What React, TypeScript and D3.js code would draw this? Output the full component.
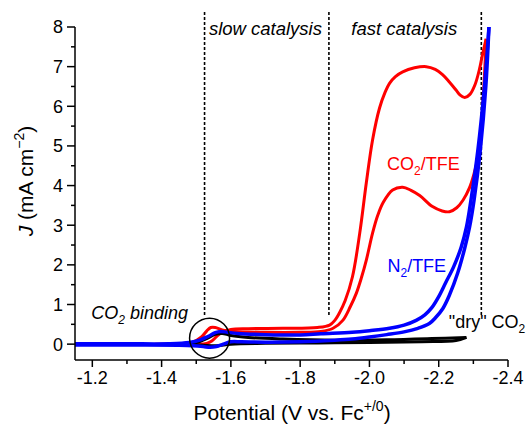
import * as d3 from 'd3';

// cyclic voltammograms, [potential (V vs Fc), J (mA cm^-2)]
const redFwd: [number, number][] = [
  [-1.38, 0.0], [-1.45, 0.01], [-1.49, 0.05], [-1.515, 0.18], [-1.53, 0.33], [-1.542, 0.42], [-1.555, 0.42],
  [-1.575, 0.36], [-1.61, 0.32], [-1.7, 0.3], [-1.8, 0.3], [-1.86, 0.32], [-1.895, 0.4], [-1.923, 0.6],
  [-1.945, 0.95], [-1.962, 1.28], [-1.977, 1.68], [-1.991, 2.12], [-2.009, 2.8], [-2.024, 3.25], [-2.04, 3.58],
  [-2.067, 3.89], [-2.096, 3.96], [-2.12, 3.88], [-2.145, 3.75], [-2.182, 3.47], [-2.21, 3.36], [-2.231, 3.34],
  [-2.252, 3.44], [-2.27, 3.63], [-2.289, 3.95], [-2.302, 4.3], [-2.313, 4.7], [-2.323, 5.5], [-2.331, 6.6],
  [-2.337, 7.7],
];
const redRev: [number, number][] = [
  [-2.337, 7.7], [-2.327, 7.33], [-2.318, 6.95], [-2.305, 6.55], [-2.29, 6.3], [-2.275, 6.22], [-2.262, 6.28],
  [-2.25, 6.41], [-2.23, 6.62], [-2.211, 6.8], [-2.19, 6.93], [-2.164, 7.0], [-2.13, 6.97], [-2.096, 6.87],
  [-2.075, 6.75], [-2.058, 6.58], [-2.045, 6.35], [-2.029, 5.95], [-2.009, 5.15], [-1.991, 4.07], [-1.972, 2.8],
  [-1.951, 1.7], [-1.93, 1.1], [-1.914, 0.8], [-1.9, 0.6], [-1.885, 0.48], [-1.85, 0.42], [-1.75, 0.4],
  [-1.65, 0.39], [-1.6, 0.37], [-1.575, 0.3], [-1.56, 0.2], [-1.545, 0.08], [-1.53, 0.02], [-1.5, 0.0], [-1.42, 0.0],
];
const blueFwd: [number, number][] = [
  [-1.15, 0.01], [-1.3, 0.01], [-1.42, 0.01], [-1.48, 0.04], [-1.51, 0.1], [-1.535, 0.2], [-1.555, 0.29],
  [-1.57, 0.32], [-1.59, 0.3], [-1.62, 0.27], [-1.7, 0.24], [-1.8, 0.23], [-1.86, 0.26], [-1.95, 0.3],
  [-2.0, 0.34], [-2.058, 0.4], [-2.1, 0.48], [-2.135, 0.6], [-2.16, 0.74], [-2.18, 0.92], [-2.2, 1.2],
  [-2.22, 1.55], [-2.243, 1.95], [-2.265, 2.45], [-2.28, 2.95], [-2.293, 3.63], [-2.313, 4.89], [-2.332, 6.5],
  [-2.345, 8.0],
];
const blueRev: [number, number][] = [
  [-2.345, 8.0], [-2.336, 6.5], [-2.32, 4.89], [-2.302, 3.63], [-2.289, 2.95], [-2.275, 2.42], [-2.255, 1.8],
  [-2.231, 1.24], [-2.212, 0.9], [-2.19, 0.66], [-2.173, 0.52], [-2.14, 0.4], [-2.1, 0.31], [-2.05, 0.24],
  [-2.0, 0.18], [-1.95, 0.13], [-1.9, 0.1], [-1.8, 0.06], [-1.7, 0.05], [-1.63, 0.06], [-1.6, 0.06],
  [-1.578, 0.0], [-1.558, -0.06], [-1.54, -0.08], [-1.52, -0.06], [-1.49, -0.04], [-1.45, -0.03],
  [-1.3, -0.02], [-1.15, -0.02],
];
const blackFwd: [number, number][] = [
  [-1.45, 0.0], [-1.5, 0.04], [-1.53, 0.14], [-1.555, 0.25], [-1.575, 0.27], [-1.6, 0.22], [-1.65, 0.17],
  [-1.75, 0.13], [-1.9, 0.1], [-2.05, 0.11], [-2.18, 0.14], [-2.28, 0.17],
];
const blackRev: [number, number][] = [
  [-2.28, 0.17], [-2.25, 0.09], [-2.15, 0.06], [-2.0, 0.04], [-1.85, 0.03], [-1.7, 0.02], [-1.6, 0.0],
  [-1.56, -0.04], [-1.52, -0.03], [-1.45, 0.0],
];

const xTicks = [-1.2, -1.4, -1.6, -1.8, -2.0, -2.2, -2.4];
const xMinor = [-1.3, -1.5, -1.7, -1.9, -2.1, -2.3];
const yTicks = [0, 1, 2, 3, 4, 5, 6, 7, 8];
const yMinor = [0.5, 1.5, 2.5, 3.5, 4.5, 5.5, 6.5, 7.5];
const regionBounds = [-1.524, -1.883, -2.323];

const W = 527;
const H = 424;
const FONT = '"Liberation Sans", Arial, sans-serif';

export default function App() {
  const x = d3.scaleLinear().domain([-1.15, -2.4]).range([75, 508]);
  const y = d3.scaleLinear().domain([-0.4, 8]).range([360, 27]);
  const line = d3.line<[number, number]>()
    .x((d) => x(d[0]))
    .y((d) => y(d[1]))
    .curve(d3.curveCatmullRom.alpha(0.5));

  const traces = [
    { d: redFwd, c: '#ff0000', w: 3 },
    { d: redRev, c: '#ff0000', w: 3 },
    { d: blackFwd, c: '#000000', w: 3 },
    { d: blackRev, c: '#000000', w: 3 },
    { d: blueFwd, c: '#0000ff', w: 3.5 },
    { d: blueRev, c: '#0000ff', w: 3.5 },
  ];

  return (
    <svg width={W} height={H} style={{ position: 'absolute', left: 0, top: 0, background: '#fff' }}
      fontFamily={FONT}>
      {/* region separators */}
      {regionBounds.map((v) => (
        <line key={v} x1={x(v)} x2={x(v)} y1={12} y2={316} stroke="#000" strokeWidth={1.6} strokeDasharray="3 2" />
      ))}
      <text x={x(-1.5365)} y={34.5} fontSize={18.5} fontStyle="italic">slow catalysis</text>
      <text x={x(-1.9475)} y={34.5} fontSize={18.5} fontStyle="italic">fast catalysis</text>

      {traces.map((t, i) => (
        <path key={i} d={line(t.d) || ''} fill="none" stroke={t.c} strokeWidth={t.w}
          strokeLinejoin="round" strokeLinecap="butt" />
      ))}

      {/* binding feature */}
      <circle cx={x(-1.5385)} cy={y(0.15)} r={20} fill="none" stroke="#000" strokeWidth={1.5} />

      {/* axes */}
      <line x1={75} x2={75} y1={y(8)} y2={360} stroke="#000" strokeWidth={1.5} />
      <line x1={75} x2={508} y1={360} y2={360} stroke="#000" strokeWidth={1.5} />
      {xTicks.map((v) => (
        <g key={v}>
          <line x1={x(v)} x2={x(v)} y1={360} y2={367} stroke="#000" strokeWidth={1.5} />
          <text x={x(v)} y={383.5} fontSize={18} textAnchor="middle">{v.toFixed(1)}</text>
        </g>
      ))}
      {xMinor.map((v) => (
        <line key={v} x1={x(v)} x2={x(v)} y1={360} y2={364} stroke="#000" strokeWidth={1.5} />
      ))}
      {yTicks.map((v) => (
        <g key={v}>
          <line x1={67} x2={75} y1={y(v)} y2={y(v)} stroke="#000" strokeWidth={1.5} />
          <text x={63} y={y(v)} dy="0.36em" fontSize={18} textAnchor="end">{v}</text>
        </g>
      ))}
      {yMinor.map((v) => (
        <line key={v} x1={71} x2={75} y1={y(v)} y2={y(v)} stroke="#000" strokeWidth={1.5} />
      ))}

      {/* axis titles */}
      <text x={292} y={420} fontSize={21} textAnchor="middle">
        Potential (V vs. Fc<tspan fontSize={14} dy={-9}>+/0</tspan><tspan dy={9}>)</tspan>
      </text>
      <text transform="translate(33,181) rotate(-90)" fontSize={21} textAnchor="middle">
        <tspan fontStyle="italic">J</tspan> (mA cm<tspan fontSize={14} dy={-9}>−2</tspan><tspan dy={9}>)</tspan>
      </text>

      {/* annotations */}
      <text x={x(-1.197)} y={318.5} fontSize={18} fontStyle="italic">
        CO<tspan fontSize={12} dy={5}>2</tspan><tspan dy={-5}> binding</tspan>
      </text>
      <text x={x(-2.051)} y={170} fontSize={18} fill="#ff0000">
        CO<tspan fontSize={12} dy={5}>2</tspan><tspan dy={-5}>/TFE</tspan>
      </text>
      <text x={x(-2.052)} y={271.5} fontSize={18} fill="#0000ff">
        N<tspan fontSize={12} dy={5}>2</tspan><tspan dy={-5}>/TFE</tspan>
      </text>
      <text x={x(-2.229)} y={327.5} fontSize={18}>
        "dry" CO<tspan fontSize={12} dy={5}>2</tspan>
      </text>
    </svg>
  );
}
